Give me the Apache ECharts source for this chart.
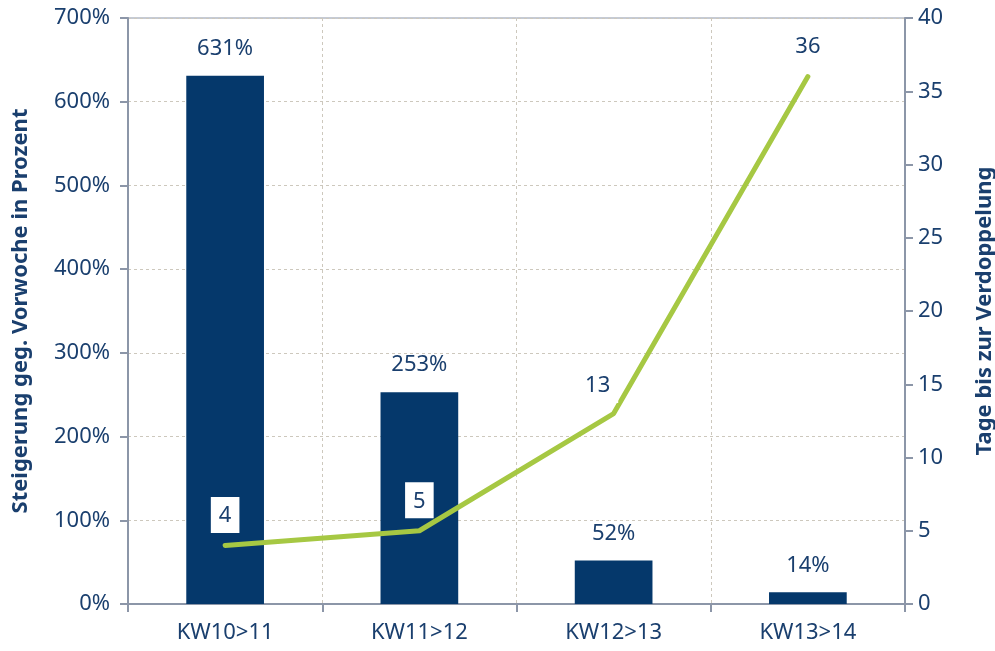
<!DOCTYPE html>
<html>
<head>
<meta charset="utf-8">
<script src="https://cdn.jsdelivr.net/npm/echarts@6/dist/echarts.min.js"></script>
<style>
html,body{margin:0;padding:0;background:#fff;}
#chart{width:995px;height:651px;}
</style>
</head>
<body>
<div id="chart"></div>
<script>
var categories = ['KW10>11', 'KW11>12', 'KW12>13', 'KW13>14'];
var steigerung = [631, 253, 52, 14];
var verdoppelung = [4, 5, 13, 36];
var leftTicks = [0, 100, 700];
var rightTicks = [0, 5, 40];

var textColor = '#1a3f6e';
var axisColor = '#8c96a8';
var font = 'Noto Sans';
var fs = 22;

var chart = echarts.init(document.getElementById('chart'));
chart.setOption({
	animation: false,
	textStyle: { fontFamily: font },
	grid: {
		left: 128, right: 90, top: 18, bottom: 47,
		outerBoundsMode: 'none',
		show: true, borderColor: axisColor, borderWidth: 1
	},
	xAxis: {
		type: 'category',
		data: categories,
		axisLine: { lineStyle: { color: axisColor, width: 2 } },
		axisTick: { show: true, length: 8, lineStyle: { color: axisColor, width: 2 } },
		axisLabel: { color: textColor, fontSize: fs, margin: 18, fontFamily: font },
		splitLine: { show: true, lineStyle: { color: '#cdc8bd', type: [3, 3] } }
	},
	yAxis: [
		{
			type: 'value',
			min: leftTicks[0], max: leftTicks[2], interval: leftTicks[1],
			name: 'Steigerung geg. Vorwoche in Prozent',
			nameLocation: 'middle', nameGap: 96, nameRotate: 90,
			nameTextStyle: { color: textColor, fontSize: 22, fontWeight: 'bold', fontFamily: font },
			axisLine: { show: true, lineStyle: { color: axisColor, width: 2 } },
			axisTick: { show: true, length: 8, lineStyle: { color: axisColor, width: 2 } },
			axisLabel: { color: textColor, fontSize: fs, margin: 18, formatter: '{value}%', fontFamily: font },
			splitLine: { show: true, lineStyle: { color: '#cdc8bd', type: [3, 3] } }
		},
		{
			type: 'value',
			min: rightTicks[0], max: rightTicks[2], interval: rightTicks[1],
			name: 'Tage bis zur Verdoppelung',
			nameLocation: 'middle', nameGap: 69, nameRotate: 90,
			nameTextStyle: { color: textColor, fontSize: 22, fontWeight: 'bold', fontFamily: font },
			axisLine: { show: true, lineStyle: { color: axisColor, width: 2 } },
			axisTick: { show: true, length: 8, lineStyle: { color: axisColor, width: 2 } },
			axisLabel: { color: textColor, fontSize: fs, margin: 13, fontFamily: font },
			splitLine: { show: false }
		}
	],
	series: [
		{
			name: 'Steigerung',
			type: 'bar',
			yAxisIndex: 0,
			data: steigerung,
			barWidth: '40%',
			itemStyle: { color: '#05386b' },
			label: {
				show: true, position: 'top', distance: 16,
				formatter: '{c}%', color: textColor, fontSize: fs, fontFamily: font
			}
		},
		{
			name: 'Tage',
			type: 'line',
			yAxisIndex: 1,
			data: verdoppelung,
			symbol: 'circle',
			symbolSize: 1,
			showSymbol: true,
			itemStyle: { color: '#a6c843' },
			lineStyle: { color: '#a6c843', width: 5, cap: 'round', join: 'round' },
			label: {
				show: true, position: 'top', distance: 12,
				color: textColor, fontSize: fs, fontFamily: font,
				backgroundColor: '#fff', padding: [8, 8, 6, 8]
			},
			labelLayout: function (p) {
				if (p.dataIndex === 2) return { dx: -16, dy: 2 };
				return {};
			},
			z: 5
		}
	]
});
</script>
</body>
</html>
